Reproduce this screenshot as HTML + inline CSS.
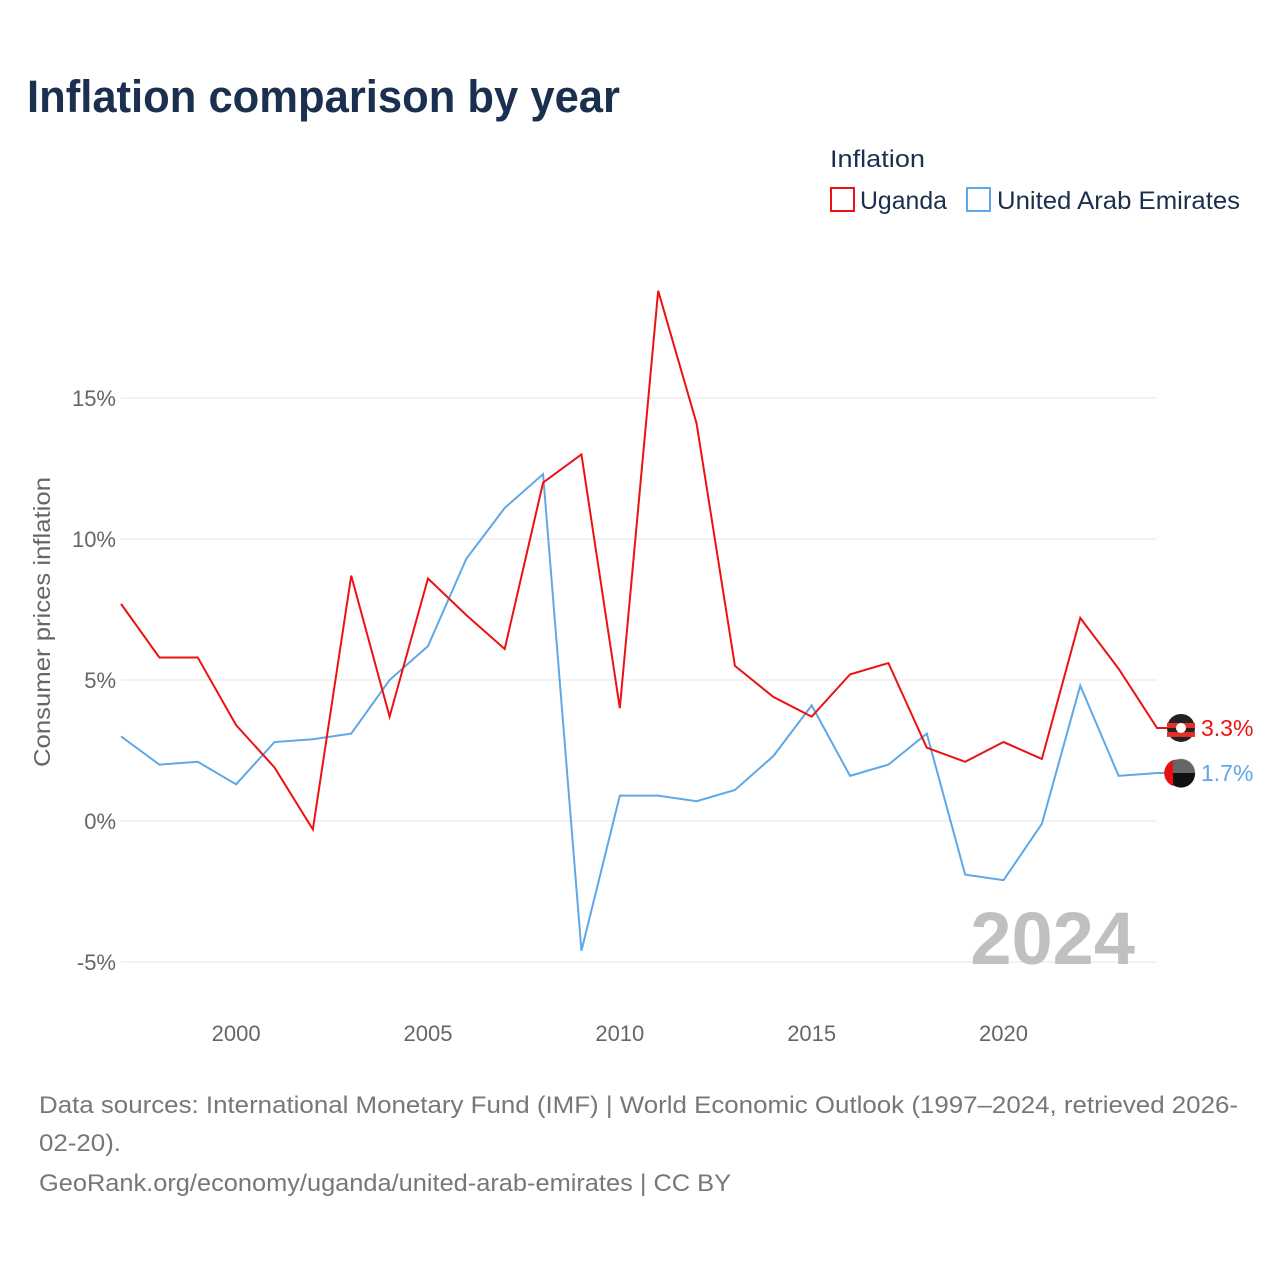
<!DOCTYPE html>
<html><head><meta charset="utf-8"><style>
body{margin:0;background:#fff;font-family:"Liberation Sans",sans-serif;}
#wrap{position:relative;width:1280px;height:1280px;}
</style></head><body>
<div id="wrap">
<svg id="chart" width="1280" height="1280"></svg>
</div>
<script>
const years=[1997,1998,1999,2000,2001,2002,2003,2004,2005,2006,2007,2008,2009,2010,2011,2012,2013,2014,2015,2016,2017,2018,2019,2020,2021,2022,2023,2024];
const uganda=[7.7,5.8,5.8,3.4,1.9,-0.3,8.7,3.7,8.6,7.3,6.1,12.0,13.0,4.0,18.8,14.1,5.5,4.4,3.7,5.2,5.6,2.6,2.1,2.8,2.2,7.2,5.4,3.3];
const uae=[3.0,2.0,2.1,1.3,2.8,2.9,3.1,5.0,6.2,9.3,11.1,12.3,-4.6,0.9,0.9,0.7,1.1,2.3,4.1,1.6,2.0,3.1,-1.9,-2.1,-0.1,4.8,1.6,1.7];
const yTicks=[-5,0,5,10,15];
const xTicks=[2000,2005,2010,2015,2020];
const NS="http://www.w3.org/2000/svg";
const svg=document.getElementById('chart');
const x=v=>121+(v-1997)*(1157-121)/27;
const y=v=>821-v*28.2;
function mk(tag,attrs,parent){const e=document.createElementNS(NS,tag);for(const k in attrs)e.setAttribute(k,attrs[k]);(parent||svg).appendChild(e);return e;}
function txt(s,attrs){const e=mk('text',attrs);e.textContent=s;return e;}
let t=txt('Inflation comparison by year',{x:27,y:112,'font-size':45,'font-weight':'bold',fill:'#1b2f4e',textLength:593,lengthAdjust:'spacingAndGlyphs'});


yTicks.forEach(v=>{
  const g=mk('line',{x1:121,x2:1157,y1:y(v),y2:y(v),stroke:'#e4e4e4','stroke-width':1});
  
  
  const l=txt(v+'%',{x:116,y:y(v)+8,'text-anchor':'end','font-size':22,fill:'#666'});
  
  
});
xTicks.forEach(v=>{
  const l=txt(String(v),{x:x(v),y:1041,'text-anchor':'middle','font-size':22,fill:'#666'});
  
  
});
t=txt('Consumer prices inflation',{x:0,y:0,transform:'translate(50,622) rotate(-90)','text-anchor':'middle','font-size':23,fill:'#666',textLength:290,lengthAdjust:'spacingAndGlyphs'});


t=txt('2024',{x:1135,y:964,'text-anchor':'end','font-size':74,'font-weight':'bold',fill:'#c0c0c0'});


function series(vals,color,name){
  const pts=vals.map((v,i)=>x(years[i])+','+y(v));
  pts.push('1167,'+y(vals[vals.length-1]));
  const p=mk('polyline',{points:pts.join(' '),fill:'none',stroke:color,'stroke-width':2});
  
  
}
series(uae,'#5fa8e8','uae');
series(uganda,'#ee1111','uganda');
const lu=uganda[uganda.length-1], la=uae[uae.length-1];
let c=mk('circle',{cx:1181,cy:y(lu),r:14,fill:'#222'});


mk('rect',{x:1167,y:y(lu)-5,width:28,height:5,fill:'#e8302a'});
mk('rect',{x:1167,y:y(lu)+4,width:28,height:5,fill:'#e8302a'});
mk('circle',{cx:1181,cy:y(lu),r:5,fill:'#fff'});
t=txt(lu.toFixed(1)+'%',{x:1201,y:y(lu)+8,'font-size':23,fill:'#ee1111'});


c=mk('circle',{cx:1181,cy:y(la),r:14,fill:'#fff',stroke:'#ddd'});


mk('path',{d:`M1181 ${y(la)-14} A14 14 0 0 1 1195 ${y(la)} L1173 ${y(la)} L1173 ${y(la)-13} Z`,fill:'#666'});
mk('path',{d:`M1173 ${y(la)} L1195 ${y(la)} A14 14 0 0 1 1173 ${y(la)+12} Z`,fill:'#111'});
mk('path',{d:`M1173 ${y(la)-13} L1173 ${y(la)+13} A14 14 0 0 1 1173 ${y(la)-13} Z`,fill:'#e81010'});
t=txt(la.toFixed(1)+'%',{x:1201,y:y(la)+8,'font-size':23,fill:'#5fa8e8'});


t=txt('Inflation',{x:830,y:167,'font-size':24,fill:'#1b2f4e',textLength:95,lengthAdjust:'spacingAndGlyphs'});


let r=mk('rect',{x:831,y:188,width:23,height:23,fill:'none',stroke:'#ee1111','stroke-width':2});


t=txt('Uganda',{x:860,y:209,'font-size':25,fill:'#1b2f4e',textLength:87,lengthAdjust:'spacingAndGlyphs'});


r=mk('rect',{x:967,y:188,width:23,height:23,fill:'none',stroke:'#5fa8e8','stroke-width':2});


t=txt('United Arab Emirates',{x:997,y:209,'font-size':25,fill:'#1b2f4e',textLength:243,lengthAdjust:'spacingAndGlyphs'});


[['Data sources: International Monetary Fund (IMF) | World Economic Outlook (1997–2024, retrieved 2026-',1113,1199],['02-20).',1151,82],['GeoRank.org/economy/uganda/united-arab-emirates | CC BY',1191,692]].forEach(([s,yy,w],i)=>{
  const f=txt(s,{x:39,y:yy,'font-size':24,fill:'#777',textLength:w,lengthAdjust:'spacingAndGlyphs'});
  
  
});
</script>
</body></html>
